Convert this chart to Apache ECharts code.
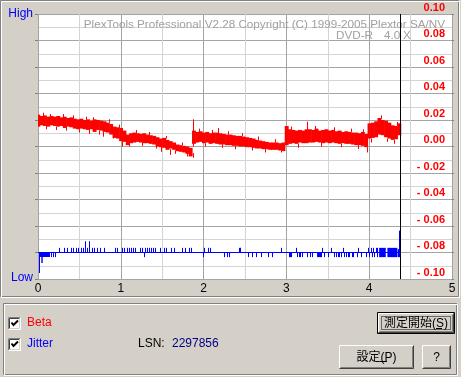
<!DOCTYPE html>
<html>
<head>
<meta charset="utf-8">
<script src="https://cdn.jsdelivr.net/npm/echarts@6/dist/echarts.min.js"></script>
<style>
html, body { margin: 0; padding: 0; background: #d4d0c8; }
#chart { width: 461px; height: 377px; }
</style>
</head>
<body>
<div id="chart"></div>
<script>
// x in GB, one beta sample every 0.04 GB
var betaStep = 0.04;
var betaHigh = [
  0.024, 0.023, 0.0235, 0.0225, 0.023, 0.0225, 0.023, 0.022, 0.0225, 0.0215, 0.022, 0.021, 0.0205, 0.021, 0.020, 0.0205,
  0.0195, 0.0205, 0.020, 0.0195, 0.019, 0.018, 0.017, 0.015, 0.0145, 0.014, 0.012, 0.009, 0.010, 0.0105, 0.010, 0.0095,
  0.010, 0.009, 0.0085, 0.008, 0.007, 0.006, 0.0065, 0.005, 0.004, 0.003, 0.0015, 0.001, 0.0005, 0.000, -0.001,
  0.012, 0.011, 0.0115, 0.0105, 0.011, 0.010, 0.0105, 0.0105, 0.010, 0.0095, 0.009, 0.009, 0.0085, 0.008, 0.008, 0.0075,
  0.007, 0.0065, 0.006, 0.005, 0.0045, 0.004, 0.0035, 0.003, 0.003, 0.003, 0.0025, 0.003,
  0.0155, 0.013, 0.0125, 0.012, 0.0125, 0.012, 0.013, 0.013, 0.0125, 0.0135, 0.012, 0.0125, 0.013, 0.012, 0.0125, 0.0115,
  0.012, 0.011, 0.0115, 0.011, 0.0105, 0.0105, 0.010, 0.011, 0.0095,
  0.0175, 0.018, 0.019, 0.0215, 0.020, 0.0195, 0.018, 0.016, 0.0155, 0.0175
];
var betaLow = [
  0.015, 0.016, 0.0155, 0.015, 0.016, 0.0155, 0.015, 0.0155, 0.014, 0.015, 0.0145, 0.0135, 0.013, 0.0135, 0.013, 0.0125,
  0.013, 0.011, 0.0125, 0.012, 0.011, 0.0105, 0.009, 0.0065, 0.006, 0.004, 0.0035, 0.001, 0.0025, 0.003, 0.0035, 0.003,
  0.0025, 0.0025, 0.002, 0.0015, 0.000, -0.0005, -0.001, -0.0025, -0.0015, -0.0025, -0.0035, -0.004, -0.0045, -0.0055, -0.0075,
  0.002, 0.003, 0.0035, 0.0025, 0.003, 0.002, 0.0025, 0.002, 0.0015, 0.0015, 0.001, 0.001, 0.0005, 0.0005, 0.000, 0.000,
  -0.0005, -0.0005, -0.001, -0.0015, -0.0015, -0.002, -0.002, -0.0025, -0.0025, -0.0025, -0.003, -0.0035,
  0.001, 0.002, 0.0025, 0.002, 0.003, 0.0025, 0.0025, 0.003, 0.003, 0.0035, 0.003, 0.0025, 0.003, 0.0025, 0.003, 0.0025,
  0.002, 0.0025, 0.002, 0.002, 0.0015, 0.001, 0.001, 0.0005, -0.0005,
  0.006, 0.0065, 0.007, 0.009, 0.0085, 0.007, 0.006, 0.005, 0.0055, 0.0085
];
// single beta spikes: [x, from, to]
var betaSpikes = [
  [0.06, 0.023, 0.0255], [0.10, 0.016, 0.013], [0.14, 0.022, 0.0245], [0.22, 0.015, 0.0125], [0.30, 0.022, 0.0245],
  [0.34, 0.015, 0.012], [0.42, 0.021, 0.0235], [0.50, 0.013, 0.0105], [0.58, 0.020, 0.0225], [0.62, 0.013, 0.0095],
  [0.66, 0.019, 0.022], [0.74, 0.012, 0.009], [0.79, 0.011, 0.0074], [0.86, 0.018, 0.0205], [0.90, 0.010, 0.006],
  [0.98, 0.014, 0.0165], [1.02, 0.004, 0.000], [1.10, 0.003, 0.000], [1.18, 0.010, 0.0125], [1.26, 0.003, 0.0005],
  [1.34, 0.0085, 0.011], [1.42, 0.002, -0.0015], [1.48, 0.000, -0.004], [1.54, 0.006, 0.008], [1.60, -0.002, -0.0064],
  [1.66, -0.003, -0.0055], [1.74, 0.001, 0.003], [1.80, -0.005, -0.0075], [1.87, -0.005, -0.0085], [1.878, 0.0, 0.0205],
  [1.94, 0.011, 0.0135], [2.02, 0.0025, 0.000], [2.10, 0.010, 0.0125], [2.17, 0.010, 0.014], [2.22, 0.0015, -0.001],
  [2.30, 0.009, 0.0115], [2.38, 0.0005, -0.002], [2.46, 0.008, 0.010], [2.58, -0.0005, -0.003], [2.66, 0.005, 0.0075],
  [2.74, -0.002, -0.0045], [2.86, 0.003, 0.0055], [2.94, -0.003, -0.0045],
  [3.06, 0.012, 0.015], [3.14, 0.002, -0.001], [3.25, 0.012, 0.0187], [3.34, 0.013, 0.0155], [3.42, 0.003, 0.0],
  [3.58, 0.012, 0.0145], [3.66, 0.002, -0.0005], [3.78, 0.011, 0.0135], [3.86, 0.001, -0.002], [3.92, 0.011, 0.013],
  [3.97, -0.0005, -0.0045], [4.02, 0.006, 0.003], [4.14, 0.021, 0.0235], [4.22, 0.006, 0.0035], [4.30, 0.005, 0.002],
  [4.34, 0.0155, 0.0185]
];

var jitterBase = -0.08;
var dataEnd = 4.383;   // LSN 2297856
var jitterSpikes = [
  [0.016, -0.0955], [0.16, -0.0835], [0.18, -0.0835], [0.20, -0.0835],
  [0.258, -0.0765], [0.319, -0.0765], [0.347, -0.0765], [0.40, -0.0765], [0.428, -0.0765], [0.46, -0.0765],
  [0.488, -0.0765], [0.52, -0.0765], [0.54, -0.0765], [0.569, -0.0715], [0.597, -0.0765], [0.621, -0.0715],
  [0.65, -0.0765], [0.678, -0.0765], [0.718, -0.0765], [0.75, -0.0765], [0.80, -0.0765], [0.932, -0.0765],
  [0.952, -0.0765], [1.013, -0.0765], [1.04, -0.0765], [1.073, -0.0765], [1.093, -0.0765], [1.12, -0.0765],
  [1.146, -0.0765], [1.174, -0.0765], [1.235, -0.0765], [1.255, -0.0765], [1.275, -0.0835], [1.295, -0.0765],
  [1.316, -0.0765], [1.344, -0.0765], [1.364, -0.0765], [1.388, -0.0765], [1.416, -0.0765], [1.477, -0.0765],
  [1.517, -0.0765], [1.55, -0.0765], [1.606, -0.0765], [1.646, -0.0765], [1.739, -0.0765], [1.78, -0.0765],
  [1.82, -0.0765], [1.848, -0.0765], [1.99, -0.0835], [2.01, -0.0765], [2.05, -0.0765], [2.082, -0.0765],
  [2.25, -0.0835], [2.28, -0.0835], [2.31, -0.0835], [2.43, -0.0765], [2.437, -0.0765], [2.445, -0.0765],
  [2.54, -0.0835], [2.59, -0.0835], [2.63, -0.0835], [2.69, -0.0835], [2.78, -0.0835], [2.83, -0.0835],
  [2.93, -0.0765], [3.03, -0.0835], [3.045, -0.0835], [3.06, -0.0835], [3.11, -0.0765], [3.13, -0.0835],
  [3.15, -0.0835], [3.17, -0.0835], [3.19, -0.0835], [3.25, -0.0835], [3.28, -0.0835], [3.31, -0.0835],
  [3.43, -0.0765], [3.46, -0.0835], [3.50, -0.0835], [3.54, -0.0765], [3.57, -0.0835], [3.60, -0.0835],
  [3.62, -0.0835], [3.64, -0.0835], [3.66, -0.0835], [3.68, -0.0765], [3.70, -0.0835], [3.72, -0.0835],
  [3.74, -0.0835], [3.76, -0.0835], [3.79, -0.0835], [3.81, -0.0835], [3.85, -0.0835], [3.87, -0.0765],
  [3.90, -0.0835], [3.96, -0.0835], [3.98, -0.0765], [4.00, -0.0835], [4.02, -0.0765], [4.03, -0.0835],
  [4.05, -0.0765], [4.06, -0.0835], [4.08, -0.0765], [4.09, -0.0835], [4.10, -0.0765], [4.36, -0.0635]
];
// dense jitter stretches: [x0, x1, low, high]
var jitterBands = [
  [0.016, 0.145, -0.0834, -0.08], [0.04, 0.057, -0.088, -0.08], [3.37, 3.43, -0.0835, -0.08],
  [4.12, 4.20, -0.0835, -0.0765], [4.22, 4.34, -0.0835, -0.0765], [4.345, 4.38, -0.0835, -0.0775]
];

var chart = echarts.init(document.getElementById('chart'));

function edges(x, y, w, h, tl, br) {
  var l = x + 0.5, t = y + 0.5, r = x + w - 0.5, b = y + h - 0.5;
  return [
    { type: 'polyline', shape: { points: [[l, b], [l, t], [r, t]] }, style: { stroke: tl, fill: null, lineWidth: 1 } },
    { type: 'polyline', shape: { points: [[r, t], [r, b], [l, b]] }, style: { stroke: br, fill: null, lineWidth: 1 } }
  ];
}
function etched(x, y, w, h) {
  return [
    { type: 'rect', shape: { x: x + 0.5, y: y + 0.5, width: w, height: h }, style: { stroke: '#808080', fill: null } },
    { type: 'rect', shape: { x: x + 1.5, y: y + 1.5, width: w, height: h }, style: { stroke: '#ffffff', fill: null } }
  ];
}
var uiFont = '12px "Liberation Sans", "Noto Sans CJK JP", sans-serif';
function label(x, y, s, color, align) {
  return { type: 'text', x: x, y: y, z: 10,
    style: { text: s, fill: color, font: uiFont, textAlign: align || 'left', textVerticalAlign: 'middle' } };
}
function button(x, y, w, h, s, isDefault) {
  var els = [{ type: 'rect', shape: { x: x, y: y, width: w, height: h }, style: { fill: '#d4d0c8' } }];
  if (isDefault) {
    els = els.concat(edges(x, y, w, h, '#000', '#000'));
    els = els.concat(edges(x + 1, y + 1, w - 2, h - 2, '#fff', '#404040'));
    els = els.concat(edges(x + 2, y + 2, w - 4, h - 4, '#d4d0c8', '#808080'));
    els.push({ type: 'rect', shape: { x: x + 4.5, y: y + 4.5, width: w - 9, height: h - 9 },
      style: { stroke: '#000', fill: null, lineDash: [1, 1] } });
  } else {
    els = els.concat(edges(x, y, w, h, '#fff', '#404040'));
    els = els.concat(edges(x + 1, y + 1, w - 2, h - 2, '#d4d0c8', '#808080'));
  }
  els.push(label(x + w / 2, y + h / 2 + 0.5, s, '#000', 'center'));
  return els;
}
function checkbox(x, y) {
  var els = [{ type: 'rect', shape: { x: x, y: y, width: 13, height: 13 }, style: { fill: '#fff' } }];
  els = els.concat(edges(x, y, 13, 13, '#808080', '#fff'));
  els = els.concat(edges(x + 1, y + 1, 11, 11, '#404040', '#d4d0c8'));
  els.push({ type: 'polyline', shape: { points: [[x + 3.5, y + 5.5], [x + 5.5, y + 8], [x + 10, y + 3.5]] },
    style: { stroke: '#000', lineWidth: 2, fill: null } });
  return els;
}

var ui = [];
ui = ui.concat(etched(0, 0, 458, 296));
ui = ui.concat(etched(3, 303, 453, 71));
ui.push(label(33, 13.5, 'High', '#0000ff', 'right'));
ui.push(label(33, 278, 'Low', '#0000ff', 'right'));
ui = ui.concat(checkbox(8, 317), checkbox(8, 338));
ui.push(label(27, 322.5, 'Beta', '#ff0000'));
ui.push(label(27, 343.5, 'Jitter', '#0000ff'));
ui.push(label(138, 343.5, 'LSN:', '#000'));
ui.push(label(172, 343.5, '2297856', '#000080'));
ui = ui.concat(button(377, 312, 78, 22, '測定開始(S)', true));
ui = ui.concat(button(339, 345, 75, 24, '設定(P)', false));
ui = ui.concat(button(422, 345, 29, 24, '?', false));
ui.push({ type: 'line', shape: { x1: 436, y1: 328.5, x2: 442, y2: 328.5 }, style: { stroke: '#000' }, z: 10 });
ui.push({ type: 'line', shape: { x1: 380, y1: 361.5, x2: 387, y2: 361.5 }, style: { stroke: '#000' }, z: 10 });
// program caption inside the plot
var capFont = '11.7px "Liberation Sans", sans-serif';
ui.push({ type: 'text', x: 445, y: 24.5, z: 1, style: { text: 'PlexTools Professional V2.28 Copyright (C) 1999-2005 Plextor SA/NV',
  fill: '#a0a0a0', font: capFont, textAlign: 'right', textVerticalAlign: 'middle' } });
ui.push({ type: 'text', x: 336, y: 36, z: 1, style: { text: 'DVD-R', fill: '#a0a0a0', font: capFont, textVerticalAlign: 'middle' } });
ui.push({ type: 'text', x: 384, y: 36, z: 1, style: { text: '4.0', fill: '#a0a0a0', font: capFont, textVerticalAlign: 'middle' } });
ui.push({ type: 'text', x: 403, y: 36, z: 1, style: { text: 'X', fill: '#a0a0a0', font: capFont, textVerticalAlign: 'middle' } });

var option = {
  animation: false,
  backgroundColor: '#d4d0c8',
  graphic: ui,
  grid: { left: 38, top: 14, width: 414, height: 265, show: true, backgroundColor: '#ffffff', borderWidth: 0 },
  xAxis: {
    type: 'value', min: 0, max: 5, interval: 0.5,
    axisLine: { show: false }, axisTick: { show: false },
    axisLabel: { margin: 4, color: '#000', fontSize: 12, fontFamily: 'Liberation Sans',
      formatter: function (v) { return Number.isInteger(v) ? String(v) : ''; } },
    splitLine: { show: true, lineStyle: { color: ['#a4a4a4', '#d4d4d4'], width: 1 } }
  },
  yAxis: [
    { type: 'value', min: -0.1, max: 0.1, interval: 0.01, position: 'left',
      axisLine: { show: false }, axisTick: { show: false }, axisLabel: { show: false },
      splitLine: { show: true, lineStyle: { color: ['#a4a4a4', '#d4d4d4'], width: 1 } } },
    { type: 'value', min: -0.1, max: 0.1, interval: 0.02, position: 'left',
      axisLine: { show: false }, axisLabel: { show: false }, splitLine: { show: false },
      axisTick: { show: true, length: 3, lineStyle: { color: '#808080' } } },
    { type: 'value', min: -0.1, max: 0.1, interval: 0.02, position: 'right', z: 5,
      axisLine: { show: false }, splitLine: { show: false },
      axisTick: { show: true, length: 2, lineStyle: { color: '#808080' } },
      axisLabel: { inside: true, margin: 7, color: '#ff0000', fontWeight: 'bold', fontSize: 11,
        fontFamily: 'Liberation Sans', verticalAlign: 'bottom', lineHeight: 13,
        formatter: function (v) { return v < 0 ? '- ' + (-v).toFixed(2) : v.toFixed(2); } } }
  ],
  series: [
    {
      type: 'custom', name: 'Beta', clip: true,
      data: betaHigh.map(function (h, i) { return [i * betaStep, h, betaLow[i]]; }),
      renderItem: function (params, api) {
        var x = api.value(0);
        var a = api.coord([x - betaStep / 2, api.value(1)]);
        var b = api.coord([x + betaStep / 2, api.value(2)]);
        return { type: 'rect', shape: { x: a[0], y: a[1], width: b[0] - a[0] + 0.6, height: b[1] - a[1] },
          style: { fill: '#ff0000' } };
      },
      markLine: { silent: true, symbol: 'none', label: { show: false },
        lineStyle: { color: '#000', type: 'solid', width: 1 }, data: [{ xAxis: dataEnd }] }
    },
    {
      type: 'custom', name: 'BetaSpikes', clip: true, data: betaSpikes,
      renderItem: function (params, api) {
        var a = api.coord([api.value(0), api.value(1)]);
        var b = api.coord([api.value(0), api.value(2)]);
        var x = Math.round(a[0]) + 0.5;
        return { type: 'line', shape: { x1: x, y1: a[1], x2: x, y2: b[1] }, style: { stroke: '#ff0000', lineWidth: 1 } };
      }
    },
    {
      type: 'line', name: 'Jitter', symbol: 'none', clip: true,
      lineStyle: { color: '#0000ff', width: 1 },
      data: [[0, jitterBase], [dataEnd, jitterBase]]
    },
    {
      type: 'custom', name: 'JitterSpikes', clip: true, data: jitterSpikes,
      renderItem: function (params, api) {
        var a = api.coord([api.value(0), jitterBase]);
        var b = api.coord([api.value(0), api.value(1)]);
        var x = Math.round(a[0]) + 0.5;
        return { type: 'line', shape: { x1: x, y1: a[1], x2: x, y2: b[1] }, style: { stroke: '#0000ff', lineWidth: 1 } };
      }
    },
    {
      type: 'custom', name: 'JitterBands', clip: true, data: jitterBands,
      renderItem: function (params, api) {
        var a = api.coord([api.value(0), api.value(3)]);
        var b = api.coord([api.value(1), api.value(2)]);
        return { type: 'rect', shape: { x: a[0], y: a[1], width: b[0] - a[0], height: b[1] - a[1] },
          style: { fill: '#0000ff' } };
      }
    }
  ]
};
chart.setOption(option);
</script>
</body>
</html>
